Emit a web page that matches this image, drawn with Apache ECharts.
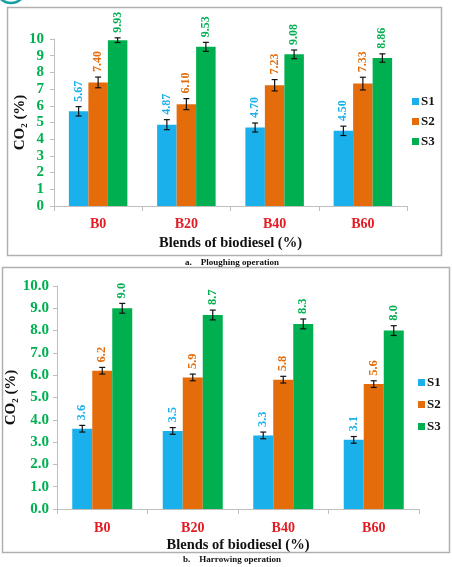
<!DOCTYPE html>
<html>
<head>
<meta charset="utf-8">
<script src="https://cdn.jsdelivr.net/npm/echarts@6/dist/echarts.min.js"></script>
<style>
html, body { margin: 0; padding: 0; background: #fff; }
#chart { width: 452px; height: 567px; }
</style>
</head>
<body>
<div id="chart"></div>
<script>
var categories = ['B0', 'B20', 'B40', 'B60'];
var seriesNames = ['S1', 'S2', 'S3'];

// a. Ploughing operation
var ploughS1 = [5.67, 4.87, 4.70, 4.50];
var ploughS2 = [7.40, 6.10, 7.23, 7.33];
var ploughS3 = [9.93, 9.53, 9.08, 8.86];
var ploughErrS1 = [0.28, 0.30, 0.27, 0.28];
var ploughErrS2 = [0.32, 0.33, 0.34, 0.38];
var ploughErrS3 = [0.14, 0.27, 0.26, 0.25];

// b. Harrowing operation
var harrowS1 = [3.6, 3.5, 3.3, 3.1];
var harrowS2 = [6.2, 5.9, 5.8, 5.6];
var harrowS3 = [9.0, 8.7, 8.3, 8.0];
var harrowErrS1 = [0.15, 0.15, 0.15, 0.15];
var harrowErrS2 = [0.15, 0.15, 0.15, 0.15];
var harrowErrS3 = [0.22, 0.22, 0.22, 0.22];

var yTicksA = [0, 10, 1];
var yTicksB = [0, 10, 1];

var COLORS = ['#1ab0ec', '#e46c0a', '#00b050'];
var SERIF = '"Liberation Serif", "DejaVu Serif", serif';
var AXIS_GRAY = '#bfbfbf';

/*==========================================
 * 误差线 + 竖排数值标签
 */
function makeErrorRender(barW, decimals, fontSize) {
    return function(params, api) {
        var cat = api.value(0);
        var s = api.value(1);
        var v = api.value(2);
        var e = api.value(3);
        var x = api.coord([cat, v])[0] + (s - 1) * barW;
        var top = api.coord([cat, v + e])[1];
        var bot = api.coord([cat, v - e])[1];
        var cap = 3;
        var lineStyle = { stroke: '#111', lineWidth: 1.2 };
        return {
            type: 'group',
            children: [
                { type: 'line', shape: { x1: x, y1: top, x2: x, y2: bot }, style: lineStyle },
                { type: 'line', shape: { x1: x - cap, y1: top, x2: x + cap, y2: top }, style: lineStyle },
                { type: 'line', shape: { x1: x - cap, y1: bot, x2: x + cap, y2: bot }, style: lineStyle },
                {
                    type: 'text',
                    x: x,
                    y: top - 5,
                    rotation: Math.PI / 2,
                    style: {
                        text: v.toFixed(decimals),
                        fill: COLORS[s],
                        font: 'bold ' + fontSize + 'px ' + SERIF,
                        align: 'left',
                        verticalAlign: 'middle'
                    }
                }
            ]
        };
    };
}

function errorData(vals, errs) {
    var out = [];
    for (var s = 0; s < vals.length; s++) {
        for (var i = 0; i < vals[s].length; i++) {
            out.push([i, s, vals[s][i], errs[s][i]]);
        }
    }
    return out;
}

function makeXAxis(idx, margin, nameGap) {
    return {
        type: 'category',
        gridIndex: idx,
        data: categories,
        axisLine: { lineStyle: { color: AXIS_GRAY, width: 1 } },
        axisTick: { show: true, length: 5, lineStyle: { color: AXIS_GRAY } },
        axisLabel: { color: '#e31b23', fontFamily: SERIF, fontWeight: 'bold', fontSize: 14, margin: margin },
        name: 'Blends of biodiesel (%)',
        nameLocation: 'middle',
        nameGap: nameGap,
        nameMoveOverlap: false,
        nameTextStyle: { color: '#111', fontFamily: SERIF, fontWeight: 'bold', fontSize: 14.5 }
    };
}

function makeYAxis(idx, ticks, decimals, nameGap, margin) {
    return {
        type: 'value',
        gridIndex: idx,
        min: ticks[0],
        max: ticks[1],
        interval: ticks[2],
        splitLine: { show: false },
        axisLine: { show: true, lineStyle: { color: AXIS_GRAY } },
        axisTick: { show: true, length: 4, lineStyle: { color: AXIS_GRAY } },
        axisLabel: {
            color: '#00b050', fontFamily: SERIF, fontWeight: 'bold', fontSize: 15, margin: margin,
            formatter: function(v) { return v.toFixed(decimals); }
        },
        name: '{a|CO}{s|2}{a| (%)}',
        nameLocation: 'middle',
        nameRotate: 90,
        nameGap: nameGap,
        nameMoveOverlap: false,
        nameTextStyle: {
            rich: {
                a: { color: '#111', fontFamily: SERIF, fontWeight: 'bold', fontSize: 15, lineHeight: 18 },
                s: { color: '#111', fontFamily: SERIF, fontWeight: 'bold', fontSize: 9, lineHeight: 18, verticalAlign: 'bottom' }
            }
        }
    };
}

function makeLegend(left, top, gap) {
    return {
        orient: 'vertical',
        left: left,
        top: top,
        itemWidth: 7,
        itemHeight: 7,
        itemGap: gap,
        icon: 'rect',
        data: seriesNames,
        selectedMode: false,
        textStyle: { color: '#111', fontFamily: SERIF, fontWeight: 'bold', fontSize: 13, padding: [0, 0, 0, -3] }
    };
}

var barsA = [ploughS1, ploughS2, ploughS3];
var barsB = [harrowS1, harrowS2, harrowS3];
var series = [];
for (var s = 0; s < 3; s++) {
    series.push({
        name: seriesNames[s], type: 'bar', xAxisIndex: 0, yAxisIndex: 0,
        data: barsA[s], barWidth: 19.5, barGap: 0, itemStyle: { color: COLORS[s] }
    });
}
for (var s = 0; s < 3; s++) {
    series.push({
        name: seriesNames[s], type: 'bar', xAxisIndex: 1, yAxisIndex: 1,
        data: barsB[s], barWidth: 20, barGap: 0, itemStyle: { color: COLORS[s] }
    });
}
series.push({
    type: 'custom', xAxisIndex: 0, yAxisIndex: 0, z: 5,
    encode: { x: 0, y: 2 },
    renderItem: makeErrorRender(19.5, 2, 12),
    data: errorData(barsA, [ploughErrS1, ploughErrS2, ploughErrS3])
});
series.push({
    type: 'custom', xAxisIndex: 1, yAxisIndex: 1, z: 5,
    encode: { x: 0, y: 2 },
    renderItem: makeErrorRender(20, 1, 12.5),
    data: errorData(barsB, [harrowErrS1, harrowErrS2, harrowErrS3])
});

var myChart = echarts.init(document.getElementById('chart'));
myChart.setOption({
    animation: false,
    backgroundColor: '#fff',
    grid: [
        { left: 54, right: 45, top: 39, bottom: 361, outerBoundsMode: 'none', containLabel: false },
        { left: 57, right: 33, top: 286, bottom: 58, outerBoundsMode: 'none', containLabel: false }
    ],
    xAxis: [makeXAxis(0, 11, 30), makeXAxis(1, 12, 29)],
    yAxis: [makeYAxis(0, yTicksA, 0, 25, 10), makeYAxis(1, yTicksB, 1, 37, 8)],
    legend: [makeLegend(407, 90, 7), makeLegend(413, 371, 9)],
    graphic: [
        { type: 'arc', shape: { cx: 11, cy: -12, r: 15, startAngle: 0, endAngle: Math.PI }, style: { stroke: '#1a9ea6', lineWidth: 2.5, fill: null } },
        { type: 'rect', shape: { x: 7.5, y: 7.5, width: 434, height: 248 }, style: { stroke: '#b0b0b0', lineWidth: 1.5, fill: null } },
        { type: 'rect', shape: { x: 2.5, y: 267.5, width: 447, height: 285 }, style: { stroke: '#b0b0b0', lineWidth: 1.5, fill: null } },
        { type: 'text', x: 232, y: 263, style: { text: 'a.    Ploughing operation', font: 'bold 9px ' + SERIF, fill: '#111', align: 'center', verticalAlign: 'middle' } },
        { type: 'text', x: 232, y: 560, style: { text: 'b.    Harrowing operation', font: 'bold 9px ' + SERIF, fill: '#111', align: 'center', verticalAlign: 'middle' } }
    ],
    series: series
});
</script>
</body>
</html>
